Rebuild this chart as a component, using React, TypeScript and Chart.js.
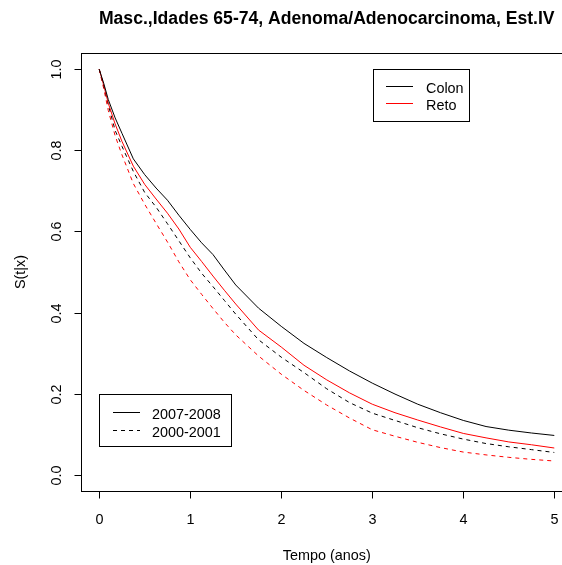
import React, { useEffect, useRef } from "react";
import { Chart, registerables } from "chart.js";

Chart.register(...registerables);

const titleText = "Masc.,Idades 65-74, Adenoma/Adenocarcinoma, Est.IV";
const xTitle = "Tempo (anos)";
const yTitle = "S(t|x)";

const times = [0, 0.05, 0.1, 0.175, 0.25, 0.375, 0.5, 0.625, 0.75, 0.875, 1, 1.125, 1.25, 1.375, 1.5, 1.75, 2, 2.25, 2.5, 2.75, 3, 3.25, 3.5, 3.75, 4, 4.25, 4.5, 4.75, 5];
const colon0708 = [1, 0.965, 0.925, 0.88, 0.842, 0.779, 0.74, 0.707, 0.677, 0.64, 0.605, 0.572, 0.543, 0.505, 0.468, 0.411, 0.366, 0.324, 0.289, 0.256, 0.226, 0.199, 0.174, 0.153, 0.134, 0.119, 0.11, 0.103, 0.097];
const reto0708 = [1, 0.96, 0.916, 0.865, 0.822, 0.761, 0.716, 0.68, 0.645, 0.606, 0.561, 0.526, 0.49, 0.455, 0.421, 0.357, 0.315, 0.27, 0.234, 0.202, 0.174, 0.153, 0.135, 0.118, 0.102, 0.091, 0.081, 0.074, 0.066];
const colon0001 = [1, 0.958, 0.912, 0.849, 0.81, 0.748, 0.696, 0.66, 0.619, 0.577, 0.535, 0.497, 0.464, 0.43, 0.396, 0.333, 0.29, 0.252, 0.212, 0.178, 0.152, 0.134, 0.116, 0.101, 0.088, 0.077, 0.069, 0.062, 0.055];
const reto0001 = [1, 0.952, 0.898, 0.836, 0.789, 0.718, 0.667, 0.62, 0.574, 0.525, 0.481, 0.445, 0.41, 0.376, 0.345, 0.293, 0.248, 0.208, 0.172, 0.14, 0.111, 0.095, 0.08, 0.067, 0.056, 0.049, 0.043, 0.038, 0.034];

const xTicks = [0, 1, 2, 3, 4, 5];
const xTickLabels = ["0", "1", "2", "3", "4", "5"];
const yTicks = [0, 0.2, 0.4, 0.6, 0.8, 1.0];
const yTickLabels = ["0.0", "0.2", "0.4", "0.6", "0.8", "1.0"];

const siteLegend = ["Colon", "Reto"];
const periodLegend = ["2007-2008", "2000-2001"];

const FONT = "'Liberation Sans', Arial, sans-serif";
const RED = "#FF0000";
const BLACK = "#000000";

export default function App() {
  const ref = useRef<HTMLCanvasElement>(null);

  useEffect(() => {
    const canvas = ref.current!;
    const mk = (label: string, vals: number[], color: string, dash: number[]) => ({
      label,
      data: times.map((t, i) => ({ x: t, y: vals[i] })),
      borderColor: color,
      backgroundColor: color,
      borderWidth: 1,
      borderDash: dash,
      pointRadius: 0,
      fill: false,
      tension: 0,
    });

    const frame = {
      id: "frame",
      afterDraw(chart: any) {
        const ctx = chart.ctx as CanvasRenderingContext2D;
        const ca = chart.chartArea;
        const xs = chart.scales.x;
        const ys = chart.scales.y;
        ctx.save();
        ctx.strokeStyle = BLACK;
        ctx.lineWidth = 1;
        ctx.setLineDash([]);
        const L = Math.round(ca.left) + 0.5;
        const T = Math.round(ca.top) + 0.5;
        const R = Math.round(ca.right) + 0.5;
        const B = Math.round(ca.bottom) + 0.5;
        ctx.strokeRect(L, T, R - L, B - T);

        ctx.fillStyle = BLACK;
        ctx.font = `14.4px ${FONT}`;
        ctx.textAlign = "center";
        ctx.textBaseline = "alphabetic";
        xTicks.forEach((v, i) => {
          const px = Math.round(xs.getPixelForValue(v)) + 0.5;
          ctx.beginPath();
          ctx.moveTo(px, B);
          ctx.lineTo(px, B + 7);
          ctx.stroke();
          ctx.fillText(xTickLabels[i], px, 524);
        });
        yTicks.forEach((v, i) => {
          const py = Math.round(ys.getPixelForValue(v)) + 0.5;
          ctx.beginPath();
          ctx.moveTo(L - 7, py);
          ctx.lineTo(L, py);
          ctx.stroke();
          ctx.save();
          ctx.translate(61, py);
          ctx.rotate(-Math.PI / 2);
          ctx.fillText(yTickLabels[i], 0, 0);
          ctx.restore();
        });

        const cx = (ca.left + ca.right) / 2;
        const cy = (ca.top + ca.bottom) / 2;
        ctx.fillText(xTitle, cx, 559.5);
        ctx.save();
        ctx.translate(25, cy);
        ctx.rotate(-Math.PI / 2);
        ctx.fillText(yTitle, 0, 0);
        ctx.restore();

        ctx.font = `bold 17.6px ${FONT}`;
        ctx.fillText(titleText, cx, 24);

        const drawLegend = (
          bx: number, by: number, bw: number, bh: number,
          labels: string[], colors: string[], dashes: number[][],
          lineYs: number[], lx0: number, lx1: number, tx: number
        ) => {
          ctx.setLineDash([]);
          ctx.strokeStyle = BLACK;
          ctx.lineWidth = 1;
          ctx.strokeRect(bx + 0.5, by + 0.5, bw, bh);
          ctx.font = `14.4px ${FONT}`;
          ctx.textAlign = "left";
          labels.forEach((lab, i) => {
            const ly = lineYs[i] + 0.5;
            ctx.save();
            ctx.strokeStyle = colors[i];
            ctx.lineWidth = 1;
            ctx.setLineDash(dashes[i]);
            ctx.beginPath();
            ctx.moveTo(lx0, ly);
            ctx.lineTo(lx1, ly);
            ctx.stroke();
            ctx.restore();
            ctx.fillStyle = BLACK;
            ctx.fillText(lab, tx, lineYs[i] + 6.5);
          });
        };
        drawLegend(373, 69, 96, 52, siteLegend, [BLACK, RED], [[], []], [86, 103], 386, 413, 426);
        drawLegend(99, 394, 132, 52, periodLegend, [BLACK, BLACK], [[], [4, 4]], [412, 430], 113, 140, 152);
        ctx.restore();
      },
    };

    const chart = new Chart(canvas, {
      type: "line",
      data: {
        datasets: [
          mk("Colon 2007-2008", colon0708, BLACK, []),
          mk("Reto 2007-2008", reto0708, RED, []),
          mk("Colon 2000-2001", colon0001, BLACK, [4, 4]),
          mk("Reto 2000-2001", reto0001, RED, [4, 4]),
        ],
      },
      options: {
        animation: false,
        responsive: false,
        maintainAspectRatio: false,
        layout: { padding: { top: 53, right: 1.5, left: 0, bottom: 0 } },
        plugins: {
          legend: { display: false },
          tooltip: { enabled: false },
          title: { display: false },
        },
        scales: {
          x: {
            type: "linear",
            min: -0.2,
            max: 5.2,
            grid: { display: false },
            border: { display: false },
            ticks: { display: false },
            afterFit: (s: any) => {
              s.height = 74;
            },
          },
          y: {
            type: "linear",
            min: -0.04,
            max: 1.04,
            grid: { display: false },
            border: { display: false },
            ticks: { display: false },
            afterFit: (s: any) => {
              s.width = 81;
            },
          },
        },
      } as any,
      plugins: [frame],
    });
    return () => chart.destroy();
  }, []);

  return (
    <div
      style={{
        position: "fixed",
        left: 0,
        top: 0,
        width: 562,
        height: 565,
        overflow: "hidden",
        background: "#fff",
      }}
    >
      <canvas ref={ref} width={574} height={565} style={{ display: "block", width: 574, height: 565 }} />
    </div>
  );
}
